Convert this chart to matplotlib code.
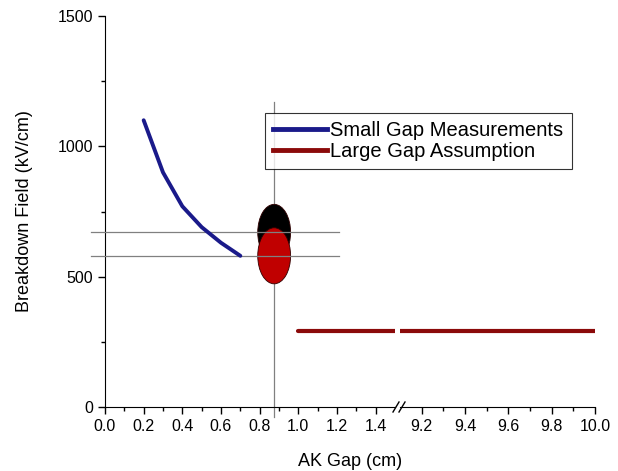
import matplotlib
matplotlib.use('Agg')
import matplotlib.pyplot as plt
from matplotlib.patches import Ellipse
from matplotlib.lines import Line2D
import numpy as np

plt.rcParams['font.family'] = ['Liberation Sans', 'DejaVu Sans']

# small gap measurements (blue curve)
small_gap = [0.2, 0.3, 0.4, 0.5, 0.6, 0.7]
small_field = [1100, 900, 770, 690, 630, 580]

# large gap assumption (red line)
large_gap = [1.0, 10.0]
large_field = [290, 290]

# marked operating point
point_gap = 0.875
point_fields = [670, 580]   # black, red
point_colors = ['black', '#c00000']

left_ticks = [0.0, 0.2, 0.4, 0.6, 0.8, 1.0, 1.2, 1.4]
right_ticks = [9.2, 9.4, 9.6, 9.8, 10.0]
y_ticks = [0, 500, 1000, 1500]

blue = '#1a1a8a'
red = '#8b0a0a'

fig = plt.figure(figsize=(6.18, 4.71), dpi=100)
W, H = 618.0, 471.0
bot = 1 - 407 / H
top = 1 - 16 / H
ax1 = fig.add_axes([105 / W, bot, (395 - 105) / W, top - bot])
ax2 = fig.add_axes([400 / W, bot, (595 - 400) / W, top - bot])

for ax in (ax1, ax2):
    ax.spines['top'].set_visible(False)
    ax.spines['right'].set_visible(False)
    ax.set_ylim(0, 1500)
    ax.tick_params(which='major', direction='out', length=5, width=1, labelsize=11.5)
    ax.tick_params(which='minor', direction='out', length=3, width=1)
    ax.patch.set_alpha(0)

ax1.set_xlim(0, 1.5)
ax2.set_xlim(9.1, 10.0)
ax1.set_xticks(left_ticks)
ax1.set_xticklabels(['%.1f' % t for t in left_ticks])
ax1.set_xticks(np.arange(0.1, 1.5, 0.2), minor=True)
ax2.set_xticks(right_ticks)
ax2.set_xticklabels(['%.1f' % t for t in right_ticks])
ax2.set_xticks(np.arange(9.3, 10.0, 0.2), minor=True)
ax1.set_yticks(y_ticks)
ax1.set_yticks([250, 750, 1250], minor=True)
ax2.spines['left'].set_visible(False)
ax2.set_yticks([])

# data
ax1.plot(small_gap, small_field, color=blue, lw=2.8, solid_capstyle='round',
         solid_joinstyle='round', zorder=4)
ax1.plot(large_gap, large_field, color=red, lw=3, solid_capstyle='round', zorder=4)
ax2.plot(large_gap, large_field, color=red, lw=3, solid_capstyle='round', zorder=4)

# guide lines
ax1.plot([point_gap, point_gap], [-40, 1170], color='#808080', lw=0.9, clip_on=False, zorder=1)
for f in point_fields:
    ax1.plot([-0.07, 1.21], [f, f], color='#808080', lw=0.9, clip_on=False, zorder=3)

for f, c in zip(point_fields, point_colors):
    e = Ellipse((point_gap, f), width=0.17, height=215, facecolor=c,
                edgecolor='#300000', lw=0.6, zorder=2)
    ax1.add_patch(e)

# axis break marks
for dx in (0, 6):
    fig.add_artist(Line2D([(393 + dx) / W, (399 + dx) / W], [1 - 412 / H, 1 - 402 / H],
                          color='black', lw=1))

fig.text(350 / W, 1 - 462 / H, 'AK Gap (cm)', ha='center', va='center', fontsize=13)
fig.text(25 / W, 1 - 211 / H, 'Breakdown Field (kV/cm)', ha='center', va='center',
         rotation=90, fontsize=13)

handles = [Line2D([], [], color=blue, lw=3.5), Line2D([], [], color=red, lw=3.5)]
leg = fig.legend(handles, ['Small Gap Measurements', 'Large Gap Assumption'],
                 loc='upper left', bbox_to_anchor=(265 / W, 1 - 113 / H),
                 frameon=True, fancybox=False, edgecolor='black', fontsize=14.5,
                 handlelength=2.7, handletextpad=0.15, borderpad=0.4, labelspacing=0.1,
                 borderaxespad=0)
leg.get_frame().set_linewidth(0.8)

fig.savefig('out.png', dpi=100)
